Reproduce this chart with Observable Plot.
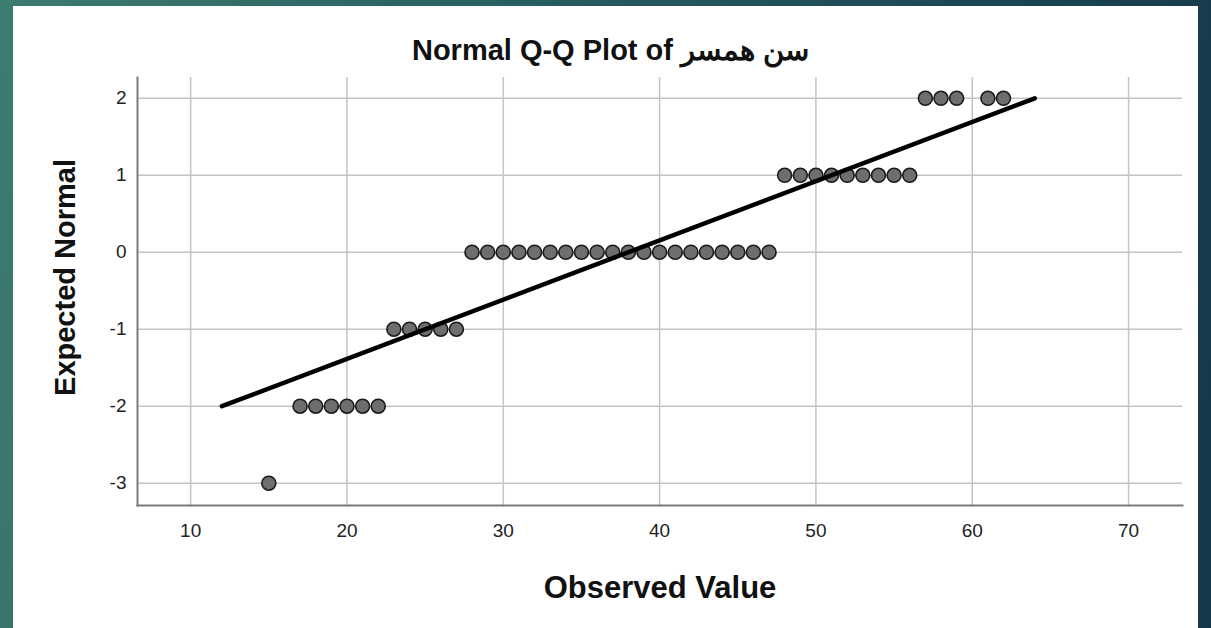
<!DOCTYPE html>
<html><head><meta charset="utf-8">
<script src="https://cdn.jsdelivr.net/npm/d3@7"></script>
<script src="https://cdn.jsdelivr.net/npm/@observablehq/plot@0.6"></script>
<style>
html,body{margin:0;padding:0;width:1211px;height:628px;overflow:hidden;}
body{background:linear-gradient(100deg,#3d7c70 0%,#2a6161 35%,#1b4654 75%,#153848 100%);position:relative;font-family:"Liberation Sans",Arial,sans-serif;}
#panel{position:absolute;left:13px;top:6px;width:1185px;height:622px;background:#fff;}
#title{position:absolute;left:0;top:30px;width:1195px;text-align:center;font-weight:bold;font-size:29px;line-height:1;color:#111;}
#chart{position:absolute;left:0;top:60px;}
</style></head><body>
<div id="panel"><div id="title">Normal Q-Q Plot of سن همسر</div><div id="chart"></div></div>
<script>
const observed = [15,
  17, 18, 19, 20, 21, 22,
  23, 24, 25, 26, 27,
  28, 29, 30, 31, 32, 33, 34, 35, 36, 37, 38, 39, 40, 41, 42, 43, 44, 45, 46, 47,
  48, 49, 50, 51, 52, 53, 54, 55, 56,
  57, 58, 59, 61, 62];
const expectedNormal = [-3,
  -2, -2, -2, -2, -2, -2,
  -1, -1, -1, -1, -1,
  0, 0, 0, 0, 0, 0, 0, 0, 0, 0, 0, 0, 0, 0, 0, 0, 0, 0, 0, 0,
  1, 1, 1, 1, 1, 1, 1, 1, 1,
  2, 2, 2, 2, 2];
const lineObserved = [12, 64];
const lineExpected = [-2, 2];
const xTicks = [10, 20, 30, 40, 50, 60, 70];
const yTicks = [-3, -2, -1, 0, 1, 2];
const xLabel = "Observed Value";
const yLabel = "Expected Normal";

const points = observed.map((v, i) => ({x: v, y: expectedNormal[i]}));
const refLine = lineObserved.map((v, i) => ({x: v, y: lineExpected[i]}));

const chart = Plot.plot({
  width: 1185,
  height: 562,
  marginLeft: 124,
  marginRight: 16,
  marginTop: 11,
  marginBottom: 123,
  style: {fontFamily: '"Liberation Sans", Arial, sans-serif', background: "transparent"},
  x: {domain: [6.6, 73.45], axis: null},
  y: {domain: [-3.29, 2.27], axis: null},
  marks: [
    Plot.gridX(xTicks, {stroke: "#c4c4c4", strokeOpacity: 1, strokeWidth: 1.5}),
    Plot.gridY(yTicks, {stroke: "#c4c4c4", strokeOpacity: 1, strokeWidth: 1.5}),
    Plot.frame({anchor: "left", stroke: "#7a7a7a", strokeWidth: 2}),
    Plot.frame({anchor: "bottom", stroke: "#7a7a7a", strokeWidth: 2}),
    Plot.axisX(xTicks, {tickSize: 0, tickPadding: 18, fontSize: 19, fill: "#222", label: null, tickFormat: d => String(d)}),
    Plot.axisY(yTicks, {tickSize: 0, tickPadding: 11, fontSize: 19, fill: "#222", label: null, tickFormat: d => String(d)}),
    Plot.dot(points, {x: "x", y: "y", r: 7, fill: "#6e6e6e", stroke: "#1a1a1a", strokeWidth: 1.6}),
    Plot.line(refLine, {x: "x", y: "y", stroke: "#000", strokeWidth: 4.5}),
    Plot.text([xLabel], {frameAnchor: "bottom", text: d => d, dy: 92, fontSize: 31, fontWeight: "bold", fill: "#111"}),
    Plot.text([yLabel], {frameAnchor: "left", textAnchor: "middle", text: d => d, dx: -72, dy: -14, rotate: -90, fontSize: 29, fontWeight: "bold", fill: "#111"})
  ]
});
document.getElementById("chart").appendChild(chart);
</script>
</body></html>
